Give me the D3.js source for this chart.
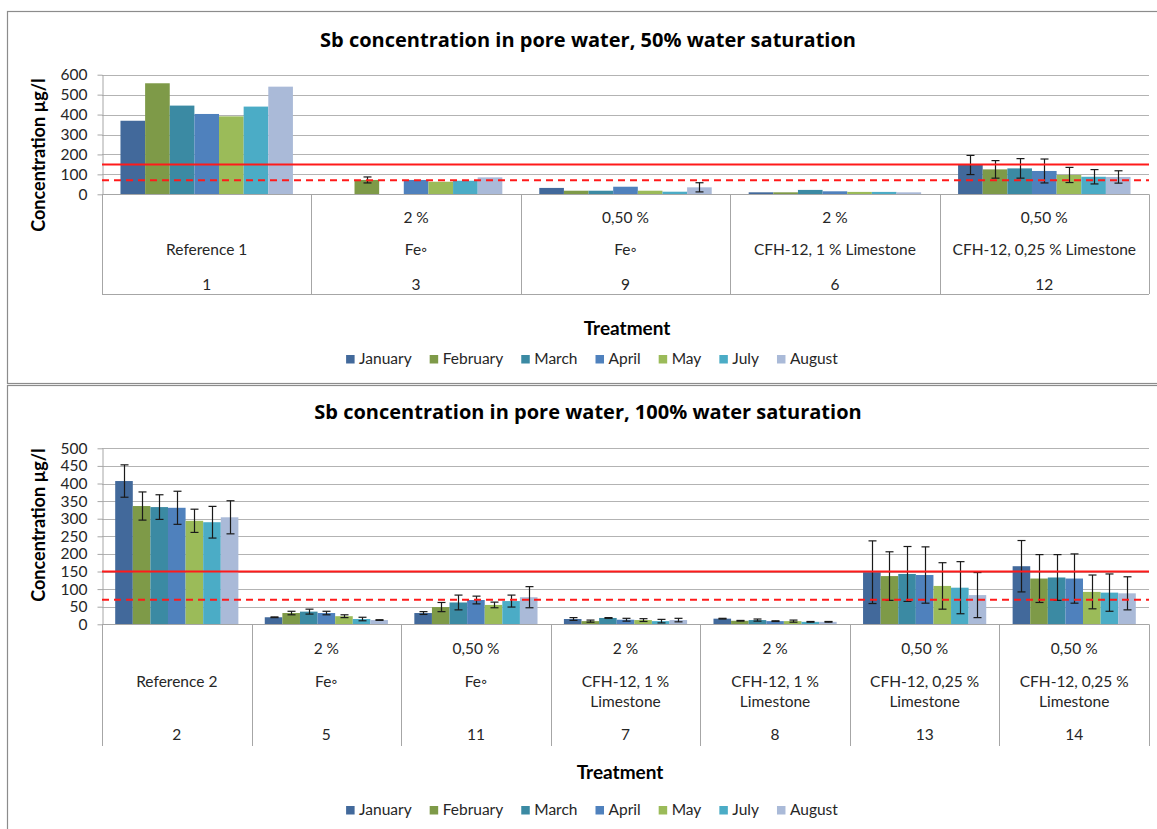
<!DOCTYPE html>
<html>
<head>
<meta charset="utf-8">
<script src="https://cdnjs.cloudflare.com/ajax/libs/d3/7.8.5/d3.min.js"></script>
<style>
  body { margin: 0; background: #fff; }
  svg { display: block; font-family: Lato, "Open Sans", sans-serif; }
</style>
</head>
<body>
<svg id="chart" width="1157" height="829"></svg>
<script>
// ---- shared series ----
const months = ["January", "February", "March", "April", "May", "July", "August"];
const monthColors = ["#42699b", "#7e9a48", "#3b8aa3", "#4f81bd", "#9bbb59", "#4bacc6", "#aabad8"];
const limitValue = 150;      // solid red limit
const guideValue = 70;       // dashed red guide

// ---- 50 % water saturation ----
const sat50Codes = ["1", "3", "9", "6", "12"];
const sat50Doses = ["", "2 %", "0,50 %", "2 %", "0,50 %"];
const sat50Names = [["Reference 1"], ["Fe\u25E6"], ["Fe\u25E6"], ["CFH-12, 1 % Limestone"], ["CFH-12, 0,25 % Limestone"]];
const sat50Values = [
  [369, 557, 445, 403, 391, 440, 540],
  [null, 72, null, 72, 63, 68, 85],
  [32, 18, 18, 38, 18, 13, 35],
  [10, 10, 22, 15, 12, 12, 10],
  [147, 125, 130, 117, 97, 88, 87]
];
const sat50Errors = [
  [null, null, null, null, null, null, null],
  [null, 15, null, null, null, null, null],
  [null, null, null, null, null, null, 23],
  [null, null, null, null, null, null, null],
  [48, 44, 49, 60, 38, 36, 31]
];
const sat50Ticks = [0, 100, 200, 300, 400, 500, 600];

// ---- 100 % water saturation ----
const sat100Codes = ["2", "5", "11", "7", "8", "13", "14"];
const sat100Doses = ["", "2 %", "0,50 %", "2 %", "2 %", "0,50 %", "0,50 %"];
const sat100Names = [["Reference 2"], ["Fe\u25E6"], ["Fe\u25E6"], ["CFH-12, 1 %", "Limestone"], ["CFH-12, 1 %", "Limestone"],
                     ["CFH-12, 0,25 %", "Limestone"], ["CFH-12, 0,25 %", "Limestone"]];
const sat100Values = [
  [407, 336, 333, 331, 294, 290, 304],
  [20, 32, 36, 32, 23, 15, 12],
  [32, 49, 62, 69, 55, 66, 77],
  [15, 9, 18, 13, 12, 9, 12],
  [16, 10, 12, 9, 9, 7, 7],
  [148, 137, 143, 140, 109, 104, 83],
  [165, 130, 133, 130, 92, 90, 88]
];
const sat100Errors = [
  [46, 40, 35, 47, 33, 45, 47],
  [1, 5, 7, 5, 4, 5, 1],
  [4, 13, 21, 11, 8, 17, 30],
  [4, 3, 1, 4, 4, 5, 5],
  [1, 1, 3, 1, 3, 1, 1],
  [89, 69, 78, 80, 66, 74, 64],
  [73, 68, 65, 70, 48, 53, 47]
];
const sat100Ticks = [0, 50, 100, 150, 200, 250, 300, 350, 400, 450, 500];

const svg = d3.select("#chart");
const gridColor = "#b3b3b3";
const lineColor = "#a6a6a6";
const textColor = "#262626";

function drawPanel(cfg) {
  const g = svg.append("g");

  // frame
  g.append("rect")
    .attr("x", 7.5).attr("y", cfg.frameTop + 0.5)
    .attr("width", 1170).attr("height", cfg.frameHeight)
    .attr("fill", "none").attr("stroke", "#8c8c8c").attr("stroke-width", 1.2);

  const x = d3.scaleBand().domain(cfg.codes).range([102, 1149]).padding(0);
  const xm = d3.scaleBand().domain(months).range([0, x.bandwidth()])
    .paddingInner(0).paddingOuter(0.75);
  const y = d3.scaleLinear().domain([0, cfg.max]).range([cfg.y0, cfg.yTop]);

  // horizontal gridlines
  g.append("g").selectAll("line").data(cfg.ticks.filter(t => t > 0)).join("line")
    .attr("x1", 102).attr("x2", 1149)
    .attr("y1", d => Math.round(y(d)) + 0.5).attr("y2", d => Math.round(y(d)) + 0.5)
    .attr("stroke", gridColor).attr("stroke-width", 1);

  // value axis
  const axis = g.append("g")
    .attr("transform", "translate(102.5,0)")
    .call(d3.axisLeft(y).tickValues(cfg.ticks).tickSize(5).tickSizeOuter(0).tickPadding(10));
  axis.select(".domain").attr("stroke", lineColor);
  axis.selectAll(".tick line").attr("stroke", lineColor);
  axis.selectAll(".tick text")
    .attr("fill", textColor).style("font-size", "15.5px").style("font-family", "Lato, sans-serif");

  // bars
  cfg.values.forEach((row, ci) => {
    const cx = x(cfg.codes[ci]);
    row.forEach((v, mi) => {
      if (v == null) return;
      g.append("rect")
        .attr("x", cx + xm(months[mi]))
        .attr("y", y(v))
        .attr("width", xm.bandwidth())
        .attr("height", y(0) - y(v))
        .attr("fill", monthColors[mi]);
    });
  });

  // category axis line and table
  g.append("line")
    .attr("x1", 102).attr("x2", 1149)
    .attr("y1", Math.round(cfg.y0) + 0.5).attr("y2", Math.round(cfg.y0) + 0.5)
    .attr("stroke", lineColor);
  const bounds = cfg.codes.map(c => x(c)).concat([x.range()[1]]);
  g.append("g").selectAll("line").data(bounds).join("line")
    .attr("x1", d => Math.round(d) + 0.5).attr("x2", d => Math.round(d) + 0.5)
    .attr("y1", cfg.y0).attr("y2", cfg.tableBottom)
    .attr("stroke", lineColor);
  if (cfg.tableLine) {
    g.append("line")
      .attr("x1", 102).attr("x2", 1149)
      .attr("y1", cfg.tableBottom + 0.5).attr("y2", cfg.tableBottom + 0.5)
      .attr("stroke", lineColor);
  }

  // error bars
  cfg.errors.forEach((row, ci) => {
    const cx = x(cfg.codes[ci]);
    row.forEach((e, mi) => {
      const v = cfg.values[ci][mi];
      if (e == null || v == null) return;
      const mx = Math.round(cx + xm(months[mi]) + xm.bandwidth() / 2) + 0.5;
      const eg = g.append("g").attr("stroke", "#1a1a1a").attr("stroke-width", 1.2);
      eg.append("line").attr("x1", mx).attr("x2", mx).attr("y1", y(v + e)).attr("y2", y(Math.max(0, v - e)));
      [v + e, Math.max(0, v - e)].forEach(w => {
        eg.append("line").attr("x1", mx - 4).attr("x2", mx + 4).attr("y1", y(w)).attr("y2", y(w));
      });
    });
  });

  // reference lines
  g.append("line")
    .attr("x1", 102).attr("x2", 1149).attr("y1", y(limitValue)).attr("y2", y(limitValue))
    .attr("stroke", "#ff1a1a").attr("stroke-width", 2);
  g.append("line")
    .attr("x1", 102).attr("x2", 1149).attr("y1", y(guideValue)).attr("y2", y(guideValue))
    .attr("stroke", "#ff1a1a").attr("stroke-width", 2).attr("stroke-dasharray", "7,5");

  // category labels
  const lab = g.append("g").attr("fill", textColor).style("font-size", "15.5px").attr("text-anchor", "middle");
  cfg.codes.forEach((c, i) => {
    const cx = x(c) + x.bandwidth() / 2;
    lab.append("text").attr("x", cx).attr("y", cfg.rowDose).attr("dy", "0.35em").text(cfg.doses[i]);
    cfg.names[i].forEach((t, k) => {
      lab.append("text").attr("x", cx).attr("y", cfg.rowName + k * 20).attr("dy", "0.35em").text(t);
    });
    lab.append("text").attr("x", cx).attr("y", cfg.rowCode).attr("dy", "0.35em").text(c);
  });

  // titles
  g.append("text").attr("x", 588).attr("y", cfg.titleY).attr("dy", "0.35em")
    .attr("text-anchor", "middle")
    .style("font-family", "'Open Sans', Lato, sans-serif")
    .style("font-size", "20px").style("font-weight", "bold")
    .attr("fill", "#000").text(cfg.title);
  g.append("text").attr("transform", `translate(45,${cfg.yTitleY}) rotate(-90)`)
    .attr("text-anchor", "middle").style("font-size", "18px").style("font-weight", "bold")
    .attr("fill", "#000").text("Concentration \u00B5g/l");
  g.append("text").attr("x", cfg.treatX).attr("y", cfg.treatY).attr("dy", "0.35em")
    .attr("text-anchor", "middle").style("font-size", "19px").style("font-weight", "bold")
    .attr("fill", "#000").text("Treatment");

  // legend
  const leg = g.append("g");
  const gap = 18;
  let lx = 0;
  months.forEach((m, i) => {
    const item = leg.append("g").attr("transform", `translate(${lx},0)`);
    item.append("rect").attr("x", 0).attr("y", cfg.legendY - 4).attr("width", 8.5).attr("height", 8.5)
      .attr("fill", monthColors[i]);
    const t = item.append("text").attr("x", 13).attr("y", cfg.legendY).attr("dy", "0.35em")
      .attr("fill", textColor).style("font-size", "15.5px").text(m);
    lx += 13 + t.node().getComputedTextLength() + gap;
  });
  const legW = lx - gap;
  leg.attr("transform", `translate(${592 - legW / 2},0)`);
}

drawPanel({
  frameTop: 11, frameHeight: 372,
  codes: sat50Codes, doses: sat50Doses, names: sat50Names,
  values: sat50Values, errors: sat50Errors, ticks: sat50Ticks, max: 600,
  y0: 194.3, yTop: 74.7, tableBottom: 294, tableLine: true,
  rowDose: 217.3, rowName: 250, rowCode: 284.3,
  title: "Sb concentration in pore water, 50% water saturation", titleY: 40,
  yTitleY: 155, treatX: 627, treatY: 328, legendY: 359
});

drawPanel({
  frameTop: 385, frameHeight: 500,
  codes: sat100Codes, doses: sat100Doses, names: sat100Names,
  values: sat100Values, errors: sat100Errors, ticks: sat100Ticks, max: 500,
  y0: 624.3, yTop: 448.3, tableBottom: 746, tableLine: false,
  rowDose: 648.3, rowName: 681.7, rowCode: 735,
  title: "Sb concentration in pore water, 100% water saturation", titleY: 412,
  yTitleY: 525, treatX: 620, treatY: 772, legendY: 810
});
</script>
</body>
</html>
